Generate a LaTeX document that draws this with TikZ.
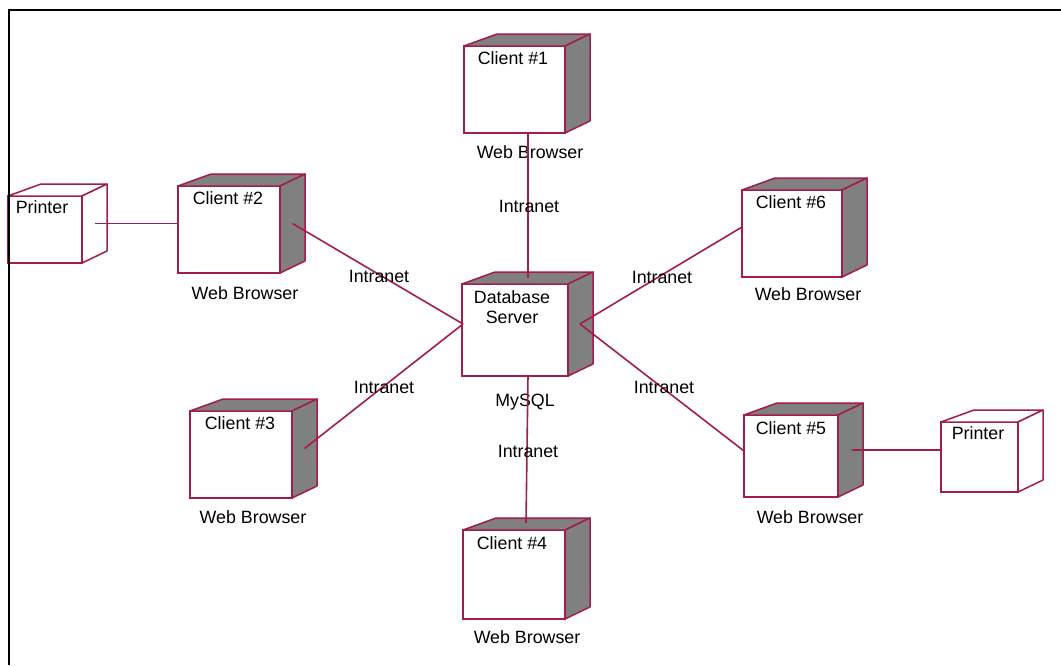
\documentclass[tikz,border=0pt]{standalone}
\usepackage{fontspec}
\setmainfont{Liberation Sans}
\usetikzlibrary{calc}
\definecolor{edgec}{RGB}{163,30,70}
\definecolor{shadec}{RGB}{128,128,128}
\tikzset{
  frontbox/.style={draw=edgec, line width=1.5pt, fill=white, anchor=north west, inner sep=0pt, outer sep=0pt},
  facebox/.style={draw=edgec, line width=1.5pt, line join=round},
  thickedge/.style={draw=edgec, line width=2.4pt, line join=round},
  link/.style={draw=edgec, line width=1.6pt},
  lbl/.style={font=\fontsize{17.8}{20}\selectfont, inner sep=0pt, anchor=base, text=black},
  frame/.style={draw=black, line width=2pt}
}
% #1 name, #2 x1, #3 y1, #4 x2, #5 y2, #6 fill of depth faces
\newcommand\cubenode[6]{%
  \node[frontbox, minimum width=#4-#2, minimum height=#5-#3] (#1) at (#2,#3) {};
  \draw[facebox, fill=#6] (#1.north west) -- ++(33,-12) -- ($(#1.north east)+(25,-12)$) -- (#1.north east) -- cycle;
  \draw[facebox, fill=#6] (#1.north east) -- ++(25,-12) -- ($(#1.south east)+(25,-12)$) -- (#1.south east) -- cycle;
  \draw[thickedge] (#1.north east) -- (#1.south east) -- (#1.south west);
}
\begin{document}
\begin{tikzpicture}[x=1pt,y=-1pt]
\useasboundingbox (0,0) rectangle (1061,665);
\fill[white] (0,0) rectangle (1061,665);

% nodes
\cubenode{c1}{464}{46}{565}{133}{shadec}
\cubenode{c2}{178}{186}{280}{273}{shadec}
\cubenode{pl}{8}{196}{82}{263}{white}
\cubenode{db}{462}{284}{568}{376}{shadec}
\cubenode{c3}{190}{411}{292}{498}{shadec}
\cubenode{c4}{463}{530}{565}{619}{shadec}
\cubenode{c5}{744}{415}{838}{497}{shadec}
\cubenode{pr}{941}{422}{1018}{492}{white}
\cubenode{c6}{742}{190}{842}{277}{shadec}

% labels
\node[lbl] (t1) at (513,64) {Client \#1};
\node[lbl] (w1) at (530,158) {Web Browser};
\node[lbl] (t2) at (228,204) {Client \#2};
\node[lbl] (w2) at (245,299) {Web Browser};
\node[lbl] (tpl) at (42,213) {Printer};
\node[lbl] (dbt1) at (512,303) {Database};
\node[lbl] (dbt2) at (512,323) {Server};
\node[lbl] (dbm) at (525,406) {MySQL};
\node[lbl] (t3) at (240,429) {Client \#3};
\node[lbl] (w3) at (253,523) {Web Browser};
\node[lbl] (t4) at (512,549) {Client \#4};
\node[lbl] (w4) at (527,643) {Web Browser};
\node[lbl] (t5) at (791,434) {Client \#5};
\node[lbl] (w5) at (810,523) {Web Browser};
\node[lbl] (tpr) at (978,439) {Printer};
\node[lbl] (t6) at (791,208) {Client \#6};
\node[lbl] (w6) at (808,300) {Web Browser};

% connection points
\coordinate (c1b) at (528,133);
\coordinate (dbtop) at (528,278);
\coordinate (dbbot) at (528,376);
\coordinate (dbl) at (463,324);
\coordinate (dbr) at (580,324);
\coordinate (c2s) at ($(c2.east)+(12.5,-6)$);
\coordinate (c3s) at ($(c3.east)+(12.5,-6)$);
\coordinate (c4t) at (526,523);
\coordinate (c5s) at ($(c5.east)+(13.5,-6)$);
\coordinate (pls) at ($(pl.east)+(12.5,-6)$);

% connectors
\draw[link] (c1b) -- (dbtop);
\draw[link] (c2s) -- (dbl);
\draw[link] (c3s) -- (dbl);
\draw[link] (dbbot) -- (c4t);
\draw[link] (dbr) -- (c6.west |- 0,227);
\draw[link] (dbr) -- (c5.west |- 0,451);
\draw[link] (pls) -- (c2.west |- pls);
\draw[link] (c5s) -- (pr.west |- c5s);

% link labels
\node[lbl] (i1) at (529,212) {Intranet};
\node[lbl] (i2) at (379,282) {Intranet};
\node[lbl] (i6) at (662,283) {Intranet};
\node[lbl] (i3) at (384,393) {Intranet};
\node[lbl] (i5) at (664,393) {Intranet};
\node[lbl] (i4) at (528,457) {Intranet};

% frame
\draw[frame] (9,665) -- (9,10) -- (1061,10);
\end{tikzpicture}
\end{document}
